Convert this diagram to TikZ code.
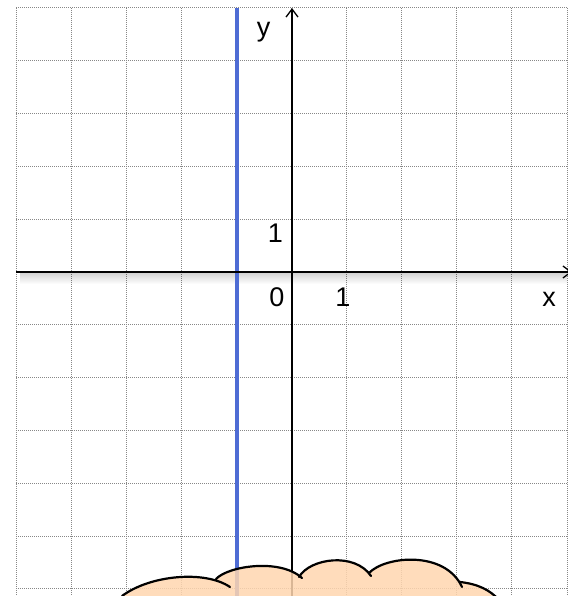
\documentclass[tikz,border=0pt]{standalone}
\usepackage{fontspec}
\setmainfont{Liberation Sans}
\usetikzlibrary{arrows.meta}
\definecolor{gridgray}{RGB}{135,135,135}
\definecolor{lineblue}{RGB}{78,108,212}
\definecolor{peach}{RGB}{255,214,176}
\tikzset{
  gridline/.style={gridgray, line width=1pt, dash pattern=on 1pt off 1pt},
  axisline/.style={black, line width=1.4pt, -{Straight Barb[length=8pt,width=12pt,line width=1.3pt]}},
  lbl/.style={inner sep=0pt, font=\fontsize{27}{31}\selectfont},
  cloudedge/.style={black, line width=2.2pt, line cap=round},
}
\begin{document}
\begin{tikzpicture}[x=1pt,y=-1pt]
\useasboundingbox (0,0) rectangle (567,596);
\fill[white] (0,0) rectangle (567,596);
% grid
\foreach \k in {0,...,10} {
  \draw[gridline] ({16+55.1*\k},8) -- ({16+55.1*\k},600);
}
\foreach \k in {0,...,11} {
  \draw[gridline] (16,{8+52.8*\k}) -- (570,{8+52.8*\k});
}
% axis coordinates
\coordinate (xs) at (16,272);
\coordinate (xe) at (572,272);
\coordinate (ys) at (292,600);
\coordinate (ye) at (292,8);
\coordinate (bs) at (237,600);
\coordinate (be) at (237,8);
% shadow of x axis
\foreach \i in {1,...,11} {
  \fill[black, opacity=0.014] (20,273) rectangle (567,{273+\i});
}
% blue line
\draw[lineblue, line width=3.3pt] (bs) -- (be);
% axes
\draw[axisline] (xs) -- (xe);
\draw[axisline, line width=1.2pt] (ys) -- (ye);
% labels
\node[lbl] (ylab) at (263.5,32.5) {y};
\node[lbl] (one y) at (275.5,233.5) {1};
\node[lbl] (zero) at (277,297) {0};
\node[lbl] (one x) at (343,297) {1};
\node[lbl] (xlab) at (549,299) {x};
% cloud fill (union of bumps)
\fill[peach, fill opacity=0.85]
  (122,602) -- (122,596) .. controls (150,575) and (205,570) .. (230,587) -- (230,602) -- cycle
  (216,602) -- (216,579) .. controls (228,566) and (280,558) .. (302,578) -- (302,602) -- cycle
  (299,602) -- (299,577) .. controls (310,558) and (355,552) .. (371,576) -- (371,602) -- cycle
  (369,602) -- (369,573) .. controls (385,556) and (445,550) .. (462,587) -- (462,602) -- cycle
  (455,602) -- (455,580) .. controls (478,583) and (490,590) .. (499,602) -- cycle;
% cloud outline
\draw[cloudedge] (122,596) .. controls (150,575) and (205,570) .. (230,587);
\draw[cloudedge] (216,579) .. controls (228,566) and (280,558) .. (302,578);
\draw[cloudedge] (299,577) .. controls (310,558) and (355,552) .. (371,576);
\draw[cloudedge] (369,573) .. controls (385,556) and (445,550) .. (462,587);
\draw[cloudedge] (460,582) .. controls (478,584) and (490,590) .. (499,600);
\end{tikzpicture}
\end{document}
